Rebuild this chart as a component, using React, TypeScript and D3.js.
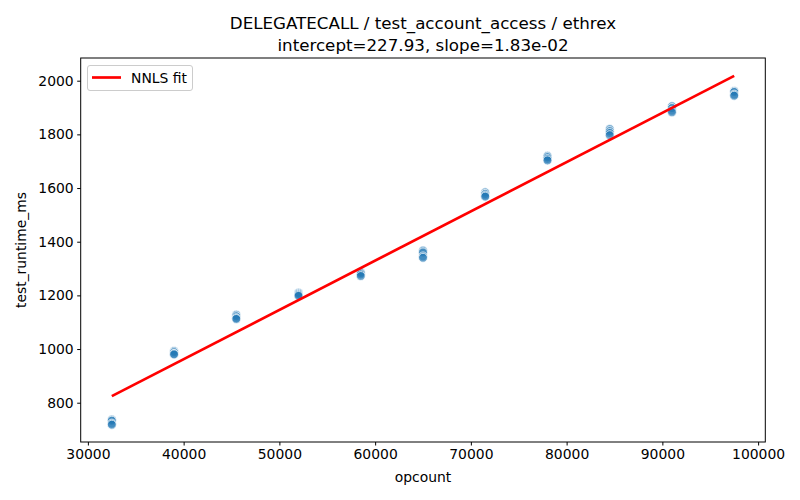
import React, { useEffect, useRef } from 'react';
import * as d3 from 'd3';

const opcounts = [32500, 39000, 45500, 52000, 58500, 65000, 71500, 78000, 84500, 91000, 97500];
// four runs per opcount, ms
const runtimes = [
  [737, 733, 722, 718],
  [993, 988, 982, 980],
  [1128, 1122, 1115, 1112],
  [1210, 1206, 1202, 1198],
  [1287, 1283, 1278, 1272],
  [1367, 1360, 1345, 1340],
  [1584, 1578, 1572, 1568],
  [1720, 1715, 1708, 1703],
  [1820, 1812, 1805, 1797],
  [1905, 1898, 1888, 1882],
  [1962, 1958, 1948, 1944],
];
const intercept = 227.93;
const slope = 0.01836;
const xTicks = [30000, 40000, 50000, 60000, 70000, 80000, 90000, 100000];
const yTicks = [800, 1000, 1200, 1400, 1600, 1800, 2000];

const App: React.FC = () => {
  const svgRef = useRef<SVGSVGElement>(null);

  useEffect(() => {
    if (!svgRef.current) return;
    const svg = d3.select(svgRef.current);
    svg.selectAll('*').remove();

    const left = 80.7, right = 765.3, top = 58, bottom = 442;
    const font = 'DejaVu Sans, sans-serif';

    const x = d3.scaleLinear().domain([29250, 100750]).range([left, right]);
    const y = d3.scaleLinear().domain([653.6, 2084.6]).range([bottom, top]);

    const points = opcounts.flatMap((o, i) => runtimes[i].map(v => ({ o, v })));

    svg.append('g')
      .selectAll('circle')
      .data(points)
      .enter()
      .append('circle')
      .attr('cx', d => x(d.o))
      .attr('cy', d => y(d.v))
      .attr('r', 4.5)
      .attr('fill', '#1f77b4')
      .attr('fill-opacity', 0.6)
      .attr('stroke', '#ffffff')
      .attr('stroke-width', 0.75);

    const fitX = [opcounts[0], opcounts[opcounts.length - 1]];
    const line = d3.line<number>().x(d => x(d)).y(d => y(intercept + slope * d));
    svg.append('path')
      .attr('d', line(fitX))
      .attr('fill', 'none')
      .attr('stroke', '#ff0000')
      .attr('stroke-width', 2.7);

    // frame
    svg.append('rect')
      .attr('x', left).attr('y', top)
      .attr('width', right - left).attr('height', bottom - top)
      .attr('fill', 'none').attr('stroke', '#000').attr('stroke-width', 1);

    const xAxis = svg.append('g')
      .attr('transform', `translate(0,${bottom})`)
      .call(d3.axisBottom(x).tickValues(xTicks).tickFormat(d3.format('d')).tickSize(3.5).tickPadding(3.5));
    xAxis.select('.domain').remove();
    xAxis.selectAll('text').attr('font-family', font).attr('font-size', 13.9).attr('fill', '#000');

    const yAxis = svg.append('g')
      .attr('transform', `translate(${left},0)`)
      .call(d3.axisLeft(y).tickValues(yTicks).tickFormat(d3.format('d')).tickSize(3.5).tickPadding(3.5));
    yAxis.select('.domain').remove();
    yAxis.selectAll('text').attr('font-family', font).attr('font-size', 13.9).attr('fill', '#000');

    svg.append('text')
      .attr('x', (left + right) / 2).attr('y', 482)
      .attr('text-anchor', 'middle')
      .attr('font-family', font).attr('font-size', 13.9)
      .text('opcount');

    svg.append('text')
      .attr('transform', `translate(26,${(top + bottom) / 2}) rotate(-90)`)
      .attr('text-anchor', 'middle')
      .attr('font-family', font).attr('font-size', 13.9)
      .text('test_runtime_ms');

    const title = svg.append('text')
      .attr('text-anchor', 'middle')
      .attr('font-family', font).attr('font-size', 16.7);
    title.append('tspan').attr('x', (left + right) / 2).attr('y', 29)
      .text('DELEGATECALL / test_account_access / ethrex');
    title.append('tspan').attr('x', (left + right) / 2).attr('y', 51)
      .text(`intercept=${intercept.toFixed(2)}, slope=1.83e-02`);

    // legend
    const lg = svg.append('g');
    lg.append('rect')
      .attr('x', 87.5).attr('y', 65.5).attr('width', 105).attr('height', 25)
      .attr('rx', 2.5)
      .attr('fill', '#fff').attr('fill-opacity', 0.8)
      .attr('stroke', '#cccccc').attr('stroke-width', 1);
    lg.append('line')
      .attr('x1', 92).attr('x2', 121).attr('y1', 77.5).attr('y2', 77.5)
      .attr('stroke', '#ff0000').attr('stroke-width', 2.7);
    lg.append('text')
      .attr('x', 131).attr('y', 82.5)
      .attr('font-family', font).attr('font-size', 13.9)
      .text('NNLS fit');
  }, []);

  return (
    <svg ref={svgRef} width={800} height={500}
      style={{ position: 'absolute', left: 0, top: 0, background: '#fff' }} />
  );
};

export default App;
